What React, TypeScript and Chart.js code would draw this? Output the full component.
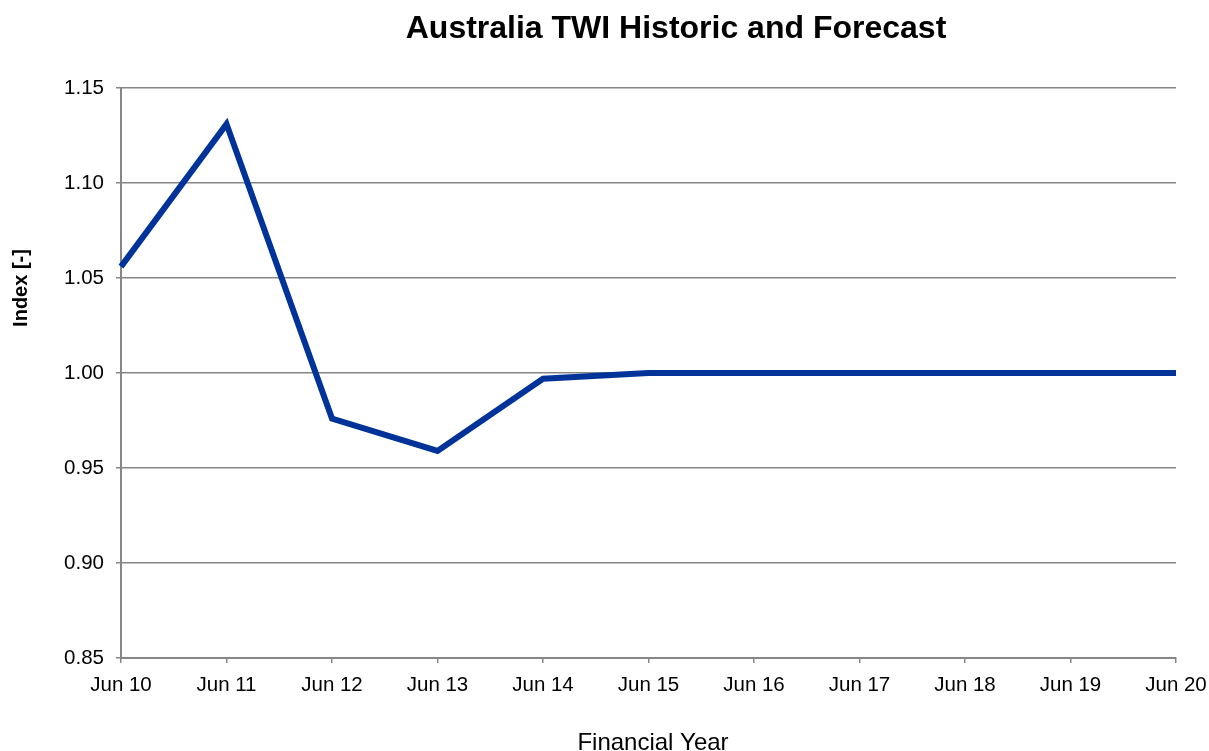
import React, { useEffect, useRef } from "react";
import { Chart, registerables } from "chart.js";

Chart.register(...registerables);

const categories = ["Jun 10", "Jun 11", "Jun 12", "Jun 13", "Jun 14", "Jun 15", "Jun 16", "Jun 17", "Jun 18", "Jun 19", "Jun 20"];
const twiValues = [1.056, 1.131, 0.976, 0.959, 0.997, 1.0, 1.0, 1.0, 1.0, 1.0, 1.0];
const chartTitle = "Australia TWI Historic and Forecast";
const xTitle = "Financial Year";
const yTitle = "Index [-]";

const FONT = '"Liberation Sans", Arial, sans-serif';

const textPlugin = {
  id: "chartTexts",
  afterDraw(chart: any) {
    const ctx = chart.ctx;
    ctx.save();
    ctx.fillStyle = "#000";
    ctx.textAlign = "center";
    ctx.textBaseline = "middle";
    ctx.font = `bold 32px ${FONT}`;
    ctx.fillText(chartTitle, 676, 29);
    ctx.restore();

    ctx.save();
    ctx.fillStyle = "#000";
    ctx.textAlign = "center";
    ctx.textBaseline = "middle";
    ctx.font = `bold 20px ${FONT}`;
    ctx.translate(21, 288);
    ctx.rotate(-Math.PI / 2);
    ctx.fillText(yTitle, 0, 0);
    ctx.restore();

    ctx.save();
    ctx.fillStyle = "#000";
    ctx.textAlign = "center";
    ctx.textBaseline = "alphabetic";
    ctx.font = `24px ${FONT}`;
    ctx.fillText(xTitle, 653, 750);
    ctx.restore();
  },
};

export default function App() {
  const ref = useRef<HTMLCanvasElement | null>(null);
  useEffect(() => {
    document.body.style.margin = "0";
    const canvas = ref.current;
    if (!canvas) return;
    const chart = new Chart(canvas, {
      type: "line",
      data: {
        labels: categories,
        datasets: [
          {
            label: "TWI",
            data: twiValues,
            borderColor: "#003399",
            backgroundColor: "#003399",
            borderWidth: 6,
            pointRadius: 0,
            tension: 0,
            fill: false,
          },
        ],
      },
      options: {
        animation: false,
        responsive: false,
        maintainAspectRatio: false,
        layout: { padding: { top: 88, left: 0, right: 33, bottom: 0 } },
        plugins: {
          legend: { display: false },
          tooltip: { enabled: false },
          title: { display: false },
        },
        scales: {
          x: {
            type: "category",
            offset: false,
            grid: {
              drawOnChartArea: false,
              drawTicks: true,
              tickLength: 5,
              color: "#868686",
              lineWidth: 1.5,
            },
            border: { display: true, color: "#868686", width: 2 },
            ticks: {
              color: "#000",
              padding: 10,
              maxRotation: 0,
              autoSkip: false,
              font: { family: FONT, size: 20.5 },
            },
            afterFit(scale: any) {
              scale.height = 751 - 658;
              scale.paddingLeft = 0;
              scale.paddingRight = 0;
            },
          },
          y: {
            min: 0.85,
            max: 1.15,
            grid: {
              drawOnChartArea: true,
              drawTicks: true,
              tickLength: 5,
              color: "#868686",
              lineWidth: 1.5,
            },
            border: { display: true, color: "#868686", width: 2 },
            ticks: {
              stepSize: 0.05,
              color: "#000",
              padding: 12,
              font: { family: FONT, size: 20.5 },
              callback: (v: any) => Number(v).toFixed(2),
            },
            afterFit(scale: any) {
              scale.width = 121;
              scale.paddingTop = 0;
              scale.paddingBottom = 0;
            },
          },
        },
      },
      plugins: [textPlugin],
    } as any);
    return () => chart.destroy();
  }, []);
  return (
    <div style={{ width: 1209, height: 751 }}>
      <canvas ref={ref} width={1209} height={751} style={{ display: "block" }} />
    </div>
  );
}
